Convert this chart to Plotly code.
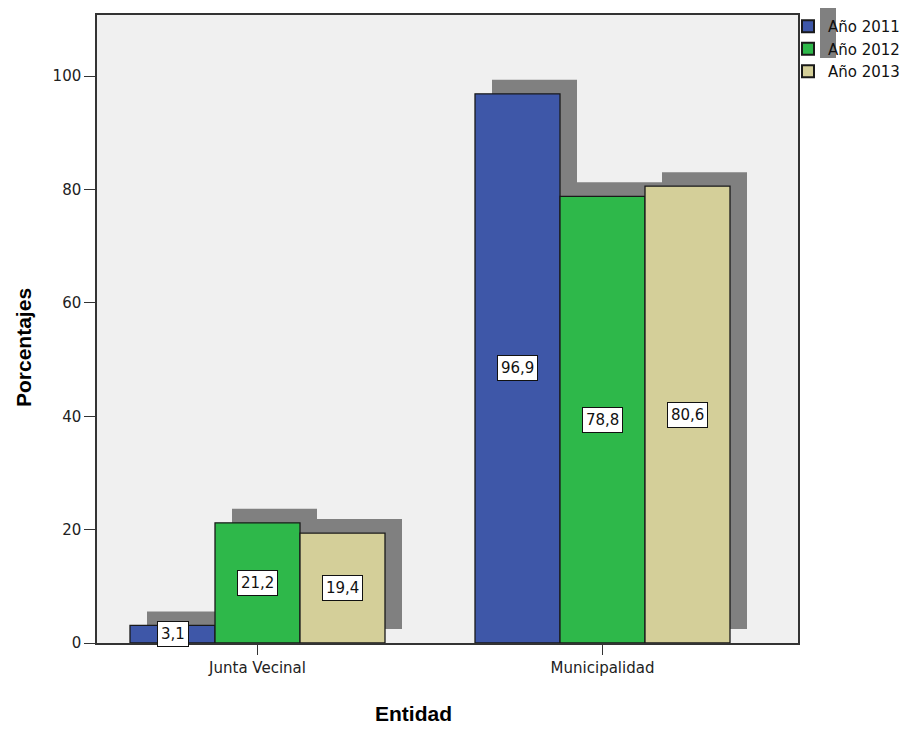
import plotly.graph_objects as go

categories = ["Junta Vecinal", "Municipalidad"]
series_names = ["Año 2011", "Año 2012", "Año 2013"]
values_2011 = [3.1, 96.9]
values_2012 = [21.2, 78.8]
values_2013 = [19.4, 80.6]
y_ticks = [0, 20, 40, 60, 80, 100]

series = [values_2011, values_2012, values_2013]
colors = ["#3e57a8", "#2eb84a", "#d4cf99"]

W = 910
H = 729
PAGE_OFF = 8  # browser default body margin
# target plot area on screen: x 97..798, y 15..643
SX0, SX1, SY0, SY1 = 97, 798, 15, 643
plot_w = SX1 - SX0
plot_h = SY1 - SY0
ML = SX0 - PAGE_OFF
MT = SY0 - PAGE_OFF
MR = W - ML - plot_w
MB = H - MT - plot_h


def px(sx):
    return (sx - SX0) / plot_w


def py(sy):
    return (SY1 - sy) / plot_h


px_per_cat = 345.0
left_off = 160.5
x_range = [-left_off / px_per_cat, (plot_w - left_off) / px_per_cat]
y_range = [0, 110.8]
px_per_y = plot_h / (y_range[1] - y_range[0])

bar_w = 85.0 / px_per_cat
shadow_dx = 17.0 / px_per_cat
shadow_dy = 14.0 / px_per_y

fig = go.Figure()

# shadows
for i, vals in enumerate(series):
    off = -1.5 * bar_w + i * bar_w
    fig.add_trace(go.Bar(
        x=categories, y=vals, base=[shadow_dy] * len(vals),
        width=bar_w, offset=off + shadow_dx,
        marker=dict(color="#808080", line=dict(width=0)),
        showlegend=False, hoverinfo="skip",
    ))

# bars
for i, vals in enumerate(series):
    off = -1.5 * bar_w + i * bar_w
    fig.add_trace(go.Bar(
        x=categories, y=vals, name=series_names[i],
        width=bar_w, offset=off,
        marker=dict(color=colors[i], line=dict(color="#1a1a1a", width=1.3)),
    ))

annotations = []
for i, vals in enumerate(series):
    for j, v in enumerate(vals):
        annotations.append(dict(
            x=j - bar_w + i * bar_w, y=v / 2, xref="x", yref="y",
            xanchor="center", yanchor="middle",
            text=f"{v:.1f}".replace(".", ","), showarrow=False,
            bgcolor="white", bordercolor="#111", borderwidth=1, borderpad=3,
            font=dict(family="DejaVu Sans", size=15, color="#111"),
        ))

annotations.append(dict(
    x=px(413), y=py(713), xref="paper", yref="paper",
    xanchor="center", yanchor="middle",
    text="<b>Entidad</b>", showarrow=False,
    font=dict(family="Liberation Sans, Arial", size=21, color="#000"),
))
annotations.append(dict(
    x=px(24), y=py(348), xref="paper", yref="paper",
    xanchor="center", yanchor="middle",
    text="<b>Porcentajes</b>", showarrow=False, textangle=-90,
    font=dict(family="Liberation Sans Narrow, Arial Narrow, Liberation Sans", size=21, color="#000"),
))

shapes = [
    dict(type="rect", xref="paper", yref="paper",
         x0=px(820), x1=px(836), y0=py(58), y1=py(8),
         fillcolor="#808080", line=dict(width=0), layer="above"),
]

fig.update_layout(
    width=W, height=H,
    margin=dict(l=ML, r=MR, t=MT, b=MB, autoexpand=False, pad=0),
    paper_bgcolor="white", plot_bgcolor="#f0f0f0",
    barmode="overlay",
    showlegend=True,
    legend=dict(x=px(788), y=py(10), xanchor="left", yanchor="top",
                bgcolor="rgba(0,0,0,0)", font=dict(family="DejaVu Sans", size=15, color="#111"),
                tracegroupgap=0, itemsizing="constant"),
    xaxis=dict(type="category", range=x_range, showgrid=False, zeroline=False,
               showline=True, linecolor="#333", linewidth=1.5, mirror=True,
               ticks="outside", ticklen=10, tickcolor="#333", automargin=False,
               tickfont=dict(family="DejaVu Sans", size=15, color="#222")),
    yaxis=dict(range=y_range, tickvals=y_ticks, showgrid=False, zeroline=False,
               showline=True, linecolor="#333", linewidth=1.5, mirror=True,
               ticks="outside", ticklen=11, tickcolor="#333", automargin=False,
               tickfont=dict(family="DejaVu Sans", size=15, color="#222")),
    annotations=annotations,
    shapes=shapes,
)

fig.write_html("out.html")
